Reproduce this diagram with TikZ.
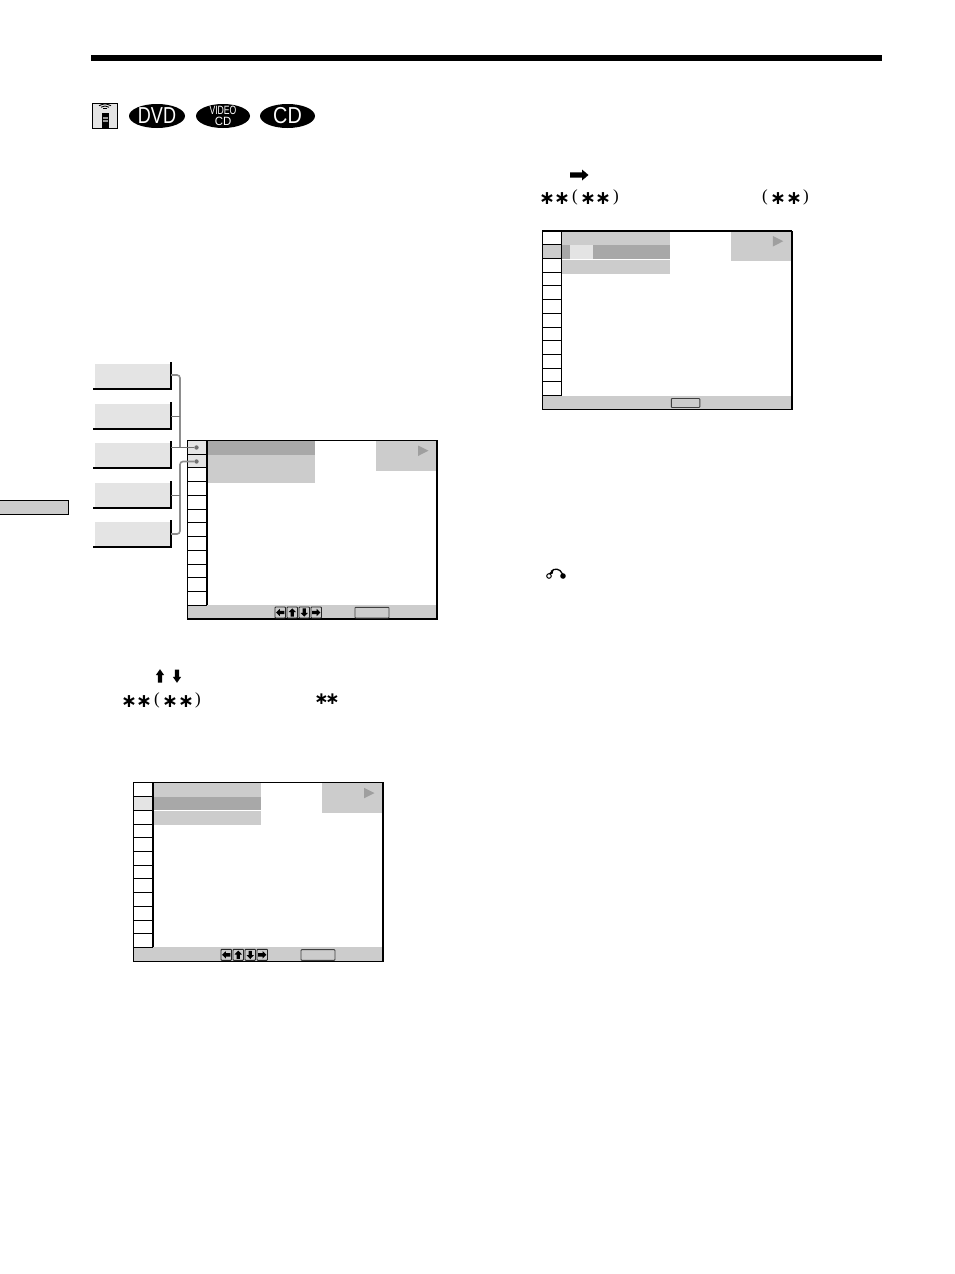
\documentclass[tikz,border=0pt]{standalone}
\usepackage{fontspec}
\setmainfont{Liberation Sans}
\newfontfamily\astfont{DejaVu Sans}
\newfontfamily\parfont{Liberation Serif}
\definecolor{lightg}{HTML}{E4E4E4}
\definecolor{midg}{HTML}{CCCCCC}
\definecolor{darkg}{HTML}{A8A8A8}
\definecolor{trig}{HTML}{9F9F9F}
\definecolor{linkg}{HTML}{707070}
\tikzset{
  sidebox/.style={fill=lightg,minimum width=75pt,minimum height=24pt,inner sep=0pt,outer sep=0pt},
  shadowbottom/.style={line width=2pt,black},
  shadowright/.style={line width=1.8pt,black},
  thinlink/.style={draw=linkg,line width=1pt},
  spine/.style={draw=linkg!80,line width=1.6pt,rounded corners=3pt},
  dotnode/.style={circle,fill=linkg,minimum size=4.4pt,inner sep=0pt},
  disc/.style={ellipse,fill=black,text=white,inner sep=0pt},
  astk/.style={inner sep=0pt,font=\astfont\bfseries\fontsize{19}{19}\selectfont},
  astsm/.style={inner sep=0pt,font=\astfont\bfseries\fontsize{17}{17}\selectfont},
  paren/.style={inner sep=0pt,font=\parfont\fontsize{17}{17}\selectfont},
  navbtn/.style={draw=black!85,line width=0.9pt,rounded corners=0.8pt,fill=midg},
}
\usetikzlibrary{shapes.geometric}
\newcommand\screengrid{%
  \foreach \r in {1,...,12}{\draw[black,line width=0.9pt] (0,{(\r)*13.72}) -- (19.5,{(\r)*13.72});}
  \draw[black,line width=1.2pt] (19.5,0) -- (19.5,164.6);
}
\newcommand\screenframe{%
  \fill[midg] (188.8,0) rectangle (249,30);
  \fill[trig] (230.5,5) -- (241,10.2) -- (230.5,15.5) -- cycle;
  \fill[midg] (0,164.6) rectangle (249.5,178.5);
}
\newcommand\frameline{\draw[black,line width=1.3pt] (0,0) rectangle (249.5,178.5);}
\newcommand\navicons{%
  \foreach \xx/\ang in {87.5/90,99.5/0,111.5/180,123.5/-90}{
    \draw[navbtn] (\xx,166.5) rectangle ++(10.5,11);
    \fill[black,shift={(\xx+5.25,172)},rotate=\ang,scale=0.62] (0,-6.8) -- (6,-0.5) -- (2.8,-0.5) -- (2.8,6.5) -- (-2.8,6.5) -- (-2.8,-0.5) -- (-6,-0.5) -- cycle;
  }
  \draw[black!75,line width=0.9pt,rounded corners=0.8pt,fill=midg] (167.5,166.8) rectangle (201.5,177.5);
}
\begin{document}
\begin{tikzpicture}[x=1pt,y=-1pt]
\useasboundingbox (0,0) rectangle (954,1274);
\fill[white] (0,0) rectangle (954,1274);
\fill[black] (91,55) rectangle (882,61);
\draw[black,line width=1pt,fill=midg] (-2,500) rectangle (68.5,514.5);
% remote icon
\draw[black,line width=0.9pt,fill=lightg] (92.5,103.5) rectangle (117.5,128.5);
\fill[black] (101.5,112.5) rectangle (108.5,127.5);
\fill[white!60!black] (102.5,116.5) rectangle (107.5,118.5);
\fill[white!60!black] (102.5,120) rectangle (107.5,121.5);
\foreach \rr in {2,4,6}{\draw[black,line width=0.9pt] (105-\rr,110.5-\rr*0.8) .. controls (105,110.5-\rr*1.2) .. (105+\rr,110.5-\rr*0.8);}
% discs
\node[disc,minimum width=56pt,minimum height=24pt] (dvd) at (157,116) {};
\node[white,inner sep=0pt] at (dvd) {\scalebox{0.82}[1.05]{\fontsize{22}{22}\selectfont DVD}};
\node[disc,minimum width=54pt,minimum height=24pt] (vcd) at (223,116) {};
\node[white,inner sep=0pt,align=center,font=\fontsize{12}{10.5}\selectfont] at (vcd) {\scalebox{0.72}[1]{VIDEO}\\\scalebox{0.95}[1]{CD}};
\node[disc,minimum width=55pt,minimum height=24pt] (cd) at (287.5,116) {};
\node[white,inner sep=0pt] at (cd) {\scalebox{0.9}[1.05]{\fontsize{22}{22}\selectfont CD}};
% side boxes
\node[sidebox] (b1) at (132.5,376) {};
\node[sidebox] (b2) at (132.5,416) {};
\node[sidebox] (b3) at (132.5,455) {};
\node[sidebox] (b4) at (132.5,495) {};
\node[sidebox] (b5) at (132.5,534) {};
\foreach \b in {b1,b2,b3,b4,b5}{
  \draw[shadowbottom] ([xshift=-2pt,yshift=-0.6pt]\b.south west) -- ([xshift=1.5pt,yshift=-0.6pt]\b.south east);
  \draw[shadowright] ([xshift=0.6pt,yshift=-0.6pt]\b.south east) -- ([xshift=0.6pt,yshift=2pt]\b.north east);
}
% screen 1
\begin{scope}[shift={(187.5,440.5)}]
  \fill[lightg] (0,0) rectangle (19.5,27.4);
  \fill[darkg] (19.5,0) rectangle (127.5,14);
  \fill[midg] (19.5,14) rectangle (127.5,42.5);
  \screenframe
  \screengrid
  \frameline
  \navicons
  \node[dotnode] (d1) at (9,7) {};
  \node[dotnode] (d2) at (9,21) {};
\end{scope}
% connectors
\coordinate (j1) at (180,375);
\coordinate (j2) at (180,461.5);
\coordinate (j3) at (180,534);
\draw[spine] ([xshift=1pt]b1.east |- j1) -- (j1) -- (j1 |- d1);
\draw[spine] (d2) -- (j2) -- (j3) -- ([xshift=1pt]b5.east |- j3);
\draw[thinlink] ([xshift=1pt]b2.east) -- (b2.east -| j1);
\draw[thinlink] ([xshift=1pt]b3.east |- d1) -- (d1);
\draw[thinlink] ([xshift=1pt]b4.east) -- (b4.east -| j1);
% step arrows
\foreach \xx/\ang in {160/0,177/180}{
  \fill[black,shift={(\xx,676)},rotate=\ang] (0,-6.8) -- (4.2,-0.8) -- (2.2,-0.8) -- (2.2,6.5) -- (-2.2,6.5) -- (-2.2,-0.8) -- (-4.2,-0.8) -- cycle;
}
\node[astk] at (129,701.5) {∗};
\node[astk] at (144,701.5) {∗};
\node[paren] at (157,700) {(};
\node[astk] at (170,701.5) {∗};
\node[astk] at (186,701.5) {∗};
\node[paren] at (198,700) {)};
\node[astsm] at (321.5,699.5) {∗};
\node[astsm] at (332.5,699.5) {∗};
% screen 2
\begin{scope}[shift={(133.5,782.8)}]
  \fill[lightg] (0,13.7) rectangle (19.5,27.4);
  \fill[midg] (19.5,0) rectangle (127.5,14);
  \fill[darkg] (19.5,14) rectangle (127.5,27.5);
  \fill[midg] (19.5,28.5) rectangle (127.5,42.5);
  \screenframe
  \screengrid
  \frameline
  \navicons
\end{scope}
% right column
\fill[black] (570,172.3) -- (582,172.3) -- (582,169.5) -- (588.5,175) -- (582,180.5) -- (582,177.7) -- (570,177.7) -- cycle;
\node[astk] at (547,198.5) {∗};
\node[astk] at (562,198.5) {∗};
\node[paren] at (575,197) {(};
\node[astk] at (588,198.5) {∗};
\node[astk] at (603,198.5) {∗};
\node[paren] at (616,197) {)};
\node[paren] at (765,197) {(};
\node[astk] at (778,198.5) {∗};
\node[astk] at (794,198.5) {∗};
\node[paren] at (806,197) {)};
% screen 3
\begin{scope}[shift={(542.3,231)}]
  \fill[midg] (0,13.7) rectangle (19.5,27.4);
  \fill[midg] (19.5,0) rectangle (127.5,14);
  \fill[darkg] (19.5,14) rectangle (127.5,27.5);
  \fill[lightg] (28,14) rectangle (50.5,28);
  \fill[midg] (19.5,28.5) rectangle (127.5,42.5);
  \screenframe
  \screengrid
  \frameline
  \draw[black,line width=1.8pt] (249.5,0) -- (249.5,178.5);
  \draw[black!75,line width=0.9pt,rounded corners=0.8pt,fill=midg] (129,167.5) rectangle (157.5,176.5);
\end{scope}
% return icon
\draw[black,line width=1pt] (549,576) circle (2.3pt);
\fill[black] (563,576) circle (2.8pt);
\draw[black,line width=1.3pt] (551,571.5) .. controls (554,568) and (560,568) .. (562.5,574);
\fill[black] (548.5,573.8) -- (553.8,569.3) -- (552.5,573.8) -- cycle;
\end{tikzpicture}
\end{document}
